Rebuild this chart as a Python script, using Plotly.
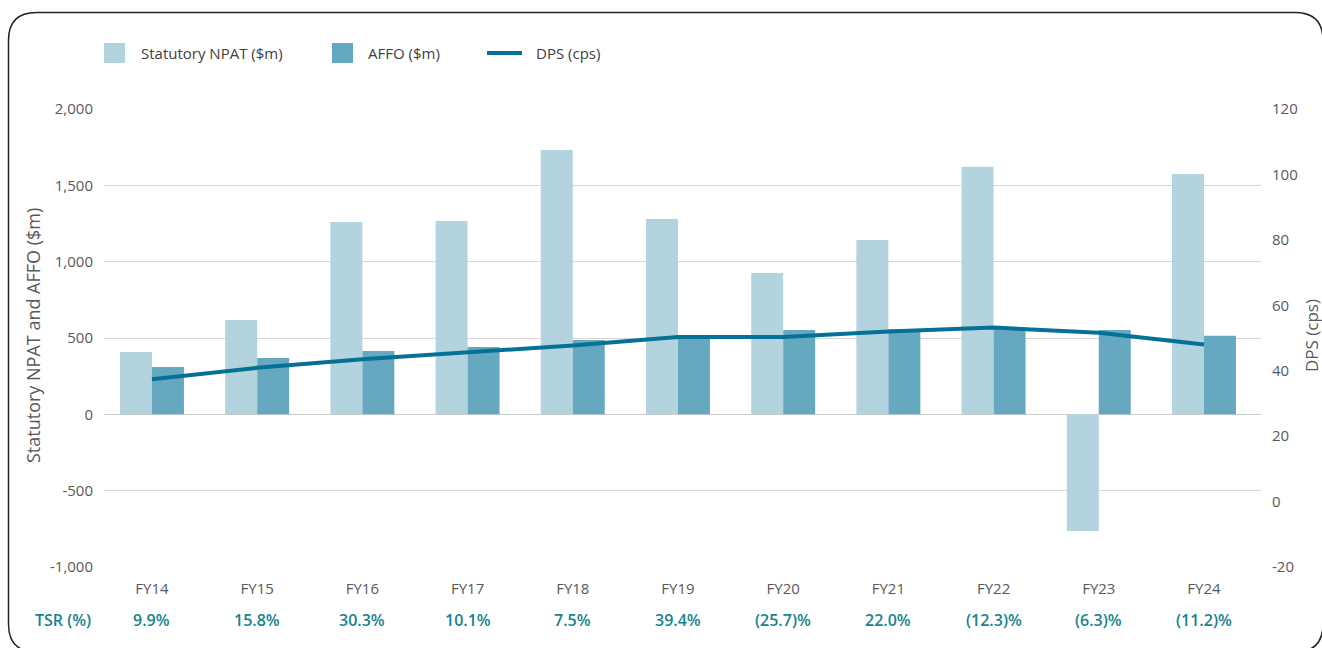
import plotly.graph_objects as go

# Financial years
years = ["FY14", "FY15", "FY16", "FY17", "FY18", "FY19", "FY20", "FY21", "FY22", "FY23", "FY24"]

# Statutory NPAT ($m)
npat = [408, 618, 1260, 1267, 1732, 1280, 926, 1142, 1621, -765, 1575]

# AFFO ($m)
affo = [310, 369, 415, 441, 487, 520, 553, 557, 572, 553, 514]

# Distribution per security (cps)
dps = [37.4, 40.9, 43.5, 45.6, 47.7, 50.3, 50.3, 52.0, 53.2, 51.6, 48.0]

# Total securityholder return (%)
tsr = [9.9, 15.8, 30.3, 10.1, 7.5, 39.4, -25.7, 22.0, -12.3, -6.3, -11.2]

# Axis tick values and labels
left_ticks = [-1000, -500, 0, 500, 1000, 1500, 2000]
left_labels = ["-1,000", "-500", "0", "500", "1,000", "1,500", "2,000"]
right_ticks = [-20, 0, 20, 40, 60, 80, 100, 120]
right_labels = ["-20", "0", "20", "40", "60", "80", "100", "120"]

C_NPAT = "#b3d3de"
C_AFFO = "#67a8c1"
C_DPS = "#047196"
C_TSR = "#17838c"
C_TICK = "#595959"
FONT = "Open Sans"

W, H = 1322, 648
PL, PR, PT, PB = 104, 1261, 109, 567  # plot area in pixels


def px(x):
    return (x - PL) / (PR - PL)


def py(y):
    return 1 - (y - PT) / (PB - PT)


fig = go.Figure()
fig.add_trace(go.Bar(x=years, y=npat, name="Statutory NPAT ($m)",
                     marker=dict(color=C_NPAT, line=dict(width=0))))
fig.add_trace(go.Bar(x=years, y=affo, name="AFFO ($m)",
                     marker=dict(color=C_AFFO, line=dict(width=0))))
fig.add_trace(go.Scatter(x=years, y=dps, name="DPS (cps)", yaxis="y2", mode="lines",
                         line=dict(color=C_DPS, width=4)))

shapes = []

# Rounded frame around the panel
x0, y0, x1, y1, r = 8.5, 12.5, 1323, 652, 28
pts = [
    ("M", [(x0 + r, y0)]),
    ("L", [(x1 - r, y0)]),
    ("Q", [(x1, y0), (x1, y0 + r)]),
    ("L", [(x1, y1 - r)]),
    ("Q", [(x1, y1), (x1 - r, y1)]),
    ("L", [(x0 + r, y1)]),
    ("Q", [(x0, y1), (x0, y1 - r)]),
    ("L", [(x0, y0 + r)]),
    ("Q", [(x0, y0), (x0 + r, y0)]),
]
path = " ".join(cmd + " " + " ".join(f"{px(a):.5f},{py(b):.5f}" for a, b in p) for cmd, p in pts) + " Z"
shapes.append(dict(type="path", path=path, xref="paper", yref="paper",
                   line=dict(color="#222222", width=1.5), fillcolor="rgba(0,0,0,0)", layer="below"))

# Legend swatches
for sx, col in [(104, C_NPAT), (332, C_AFFO)]:
    shapes.append(dict(type="rect", xref="paper", yref="paper",
                       x0=px(sx), x1=px(sx + 21), y0=py(63), y1=py(43),
                       fillcolor=col, line=dict(width=0)))
shapes.append(dict(type="line", xref="paper", yref="paper",
                   x0=px(487), x1=px(522), y0=py(53), y1=py(53),
                   line=dict(color=C_DPS, width=4)))

annotations = []
for tx, txt in [(139, "Statutory NPAT ($m)"), (366, "AFFO ($m)"), (534, "DPS (cps)")]:
    annotations.append(dict(x=px(tx), y=py(53), xref="paper", yref="paper", text=txt,
                            showarrow=False, xanchor="left", yanchor="middle",
                            font=dict(family=FONT, size=15, color="#404040")))

# Axis titles
annotations.append(dict(x=px(33), y=py(336), xref="paper", yref="paper",
                        text="Statutory NPAT and AFFO ($m)", textangle=-90,
                        showarrow=False, xanchor="center", yanchor="middle",
                        font=dict(family=FONT, size=18, color=C_TICK)))
annotations.append(dict(x=px(1311), y=py(336), xref="paper", yref="paper",
                        text="DPS (cps)", textangle=-90,
                        showarrow=False, xanchor="center", yanchor="middle",
                        font=dict(family=FONT, size=17, color=C_TICK)))

# TSR row beneath the category labels
annotations.append(dict(x=px(63), y=py(620), xref="paper", yref="paper", text="TSR (%)",
                        showarrow=False, xanchor="center", yanchor="middle",
                        font=dict(family=FONT, size=16, color=C_TSR, weight=600)))
for yr, v in zip(years, tsr):
    label = f"{v:.1f}%" if v >= 0 else f"({abs(v):.1f})%"
    annotations.append(dict(x=yr, y=py(620), xref="x", yref="paper", text=label,
                            showarrow=False, xanchor="center", yanchor="middle",
                            font=dict(family=FONT, size=16, color=C_TSR, weight=600)))

fig.update_layout(
    width=W, height=H,
    margin=dict(l=PL, r=W - PR, t=PT, b=H - PB, pad=0, autoexpand=False),
    paper_bgcolor="white", plot_bgcolor="white",
    barmode="group", bargap=0.392, bargroupgap=0,
    showlegend=False,
    font=dict(family=FONT, size=15, color=C_TICK),
    xaxis=dict(type="category", range=[-0.456, 10.542], showgrid=False, zeroline=False,
               showline=False, ticks="", tickfont=dict(size=15, color=C_TICK),
               ticklabelstandoff=11, automargin=False),
    yaxis=dict(range=[-1000, 2000], tickvals=left_ticks, ticktext=left_labels,
               showgrid=True, gridcolor="#d6d6d6", gridwidth=1,
               zeroline=True, zerolinecolor="#cccccc", zerolinewidth=1,
               showline=False, ticks="", ticklabelstandoff=10, automargin=False,
               tickfont=dict(size=15, color=C_TICK)),
    yaxis2=dict(range=[-20, 120], tickvals=right_ticks, ticktext=right_labels,
                overlaying="y", side="right", showgrid=False, zeroline=False,
                showline=False, ticks="", ticklabelstandoff=10, automargin=False,
                tickfont=dict(size=15, color=C_TICK)),
    shapes=shapes,
    annotations=annotations,
)

fig.write_html("out.html")
